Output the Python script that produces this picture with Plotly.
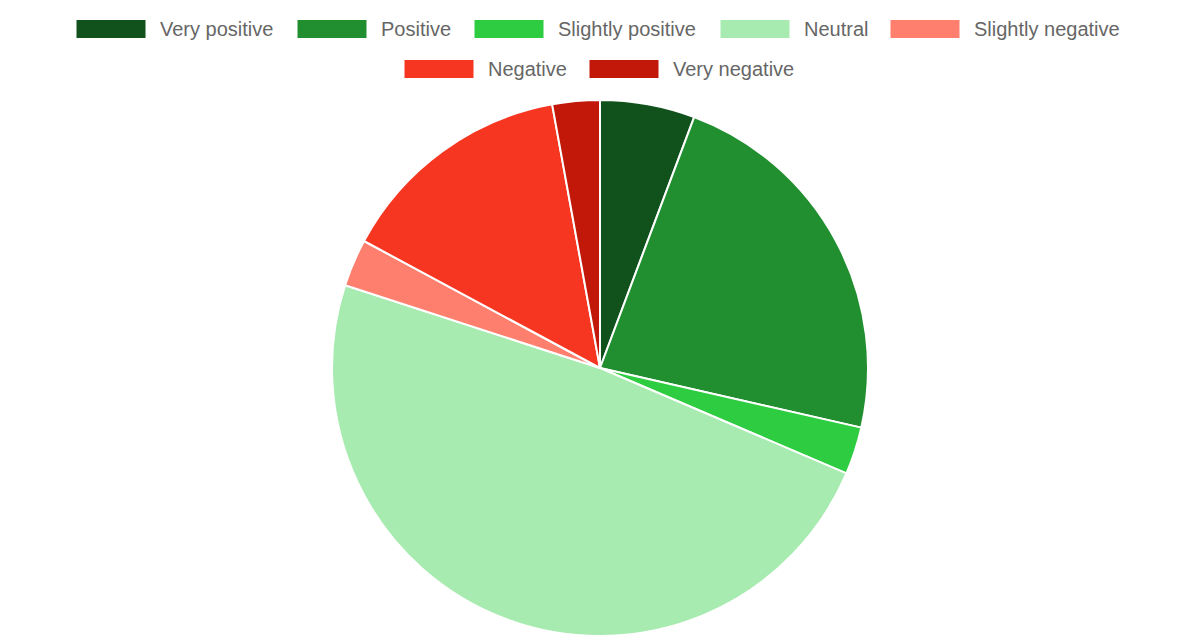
import plotly.graph_objects as go

# sentiment counts
labels = ["Very positive", "Positive", "Slightly positive", "Neutral",
          "Slightly negative", "Negative", "Very negative"]
counts = [2, 8, 1, 17, 1, 5, 1]
colors = ["#11521c", "#218f2f", "#2ecc40", "#a7ebb0",
          "#ff7f6e", "#f73622", "#c1180a"]

W, H = 1200, 640
OFF = 8  # page body margin
ML, MR, MT, MB = 0, 16, 92, 12
PW, PH = W - ML - MR, H - MT - MB

# legend layout (window pixels): row, left edge of the colour box
legend_pos = [(0, 76), (0, 297), (0, 474), (0, 720), (0, 890),
              (1, 404), (1, 589)]
row_y = [29, 69]
box_w, box_h = 70, 19


def px(x):
    return (x - OFF - ML) / PW


def py(y):
    return (H - MB - (y - OFF)) / PH


fig = go.Figure()
fig.add_trace(go.Pie(
    labels=labels,
    values=counts,
    sort=False,
    direction="clockwise",
    rotation=0,
    marker=dict(colors=colors, line=dict(color="white", width=2)),
    textinfo="none",
    hoverinfo="label+value",
    showlegend=False,
))

shapes = []
annotations = []
for (row, x0), lab, col in zip(legend_pos, labels, colors):
    yc = row_y[row]
    shapes.append(dict(
        type="rect", xref="paper", yref="paper",
        x0=px(x0), x1=px(x0 + box_w),
        y0=py(yc + box_h / 2), y1=py(yc - box_h / 2),
        fillcolor=col, line=dict(color="white", width=1),
    ))
    annotations.append(dict(
        text=lab, xref="paper", yref="paper",
        x=px(x0 + box_w + 12), y=py(yc),
        xanchor="left", yanchor="middle", showarrow=False,
        font=dict(size=20, color="#666666", family="Liberation Sans, Arial, sans-serif"),
    ))

fig.update_layout(
    width=W, height=H,
    margin=dict(l=ML, r=MR, t=MT, b=MB),
    paper_bgcolor="white",
    plot_bgcolor="white",
    shapes=shapes,
    annotations=annotations,
)

fig.write_html("out.html")
